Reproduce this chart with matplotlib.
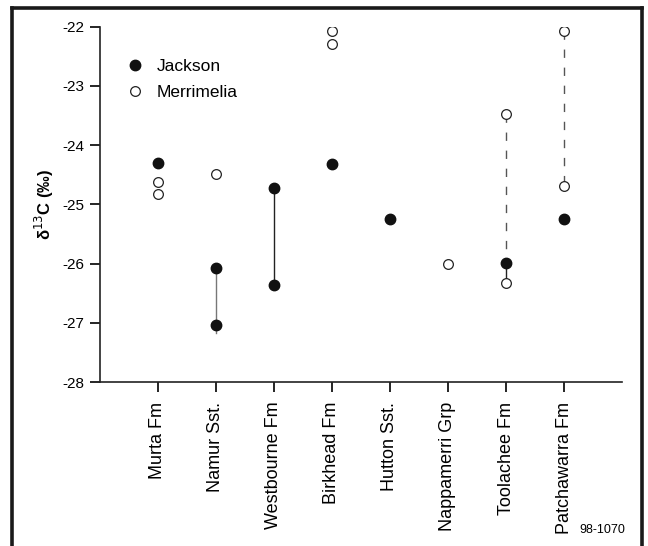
import matplotlib.pyplot as plt
from matplotlib.lines import Line2D

plt.rcParams['font.family'] = ['Liberation Sans', 'DejaVu Sans']

# formations along the x axis
formations = ['Murta Fm', 'Namur Sst.', 'Westbourne Fm', 'Birkhead Fm',
              'Hutton Sst.', 'Nappamerri Grp', 'Toolachee Fm', 'Patchawarra Fm']

# delta 13C values per formation (position 1..8)
jackson_x = [1, 2, 2, 3, 3, 4, 5, 7, 8]
jackson_y = [-24.30, -26.08, -27.03, -24.73, -26.36, -24.32, -25.25, -25.98, -25.25]

merrimelia_x = [1, 1, 2, 4, 4, 6, 7, 7, 8, 8]
merrimelia_y = [-24.62, -24.82, -24.49, -22.08, -22.29, -26.00, -23.47, -26.32, -22.08, -24.69]

# connecting ranges: (x, y_top, y_bottom)
solid_ranges = [(2, -26.08, -27.17), (3, -24.73, -26.36), (7, -25.98, -26.32)]
dashed_ranges = [(7, -23.47, -25.98), (8, -22.08, -24.69)]

fig = plt.figure(figsize=(6.48, 5.46), dpi=100)
ax = fig.add_axes([0.154, 0.300, 0.806, 0.651])

for x, y0, y1 in solid_ranges:
    col = '#777777' if x == 2 else '#222222'
    ax.plot([x, x], [y0, y1], color=col, lw=1.0, zorder=1)
for x, y0, y1 in dashed_ranges:
    ax.plot([x, x], [y0, y1], color='#555555', lw=1.0, dashes=(6, 7), zorder=1)

ax.plot(jackson_x, jackson_y, 'o', ms=7.5, color='#111111', ls='none', zorder=3)
ax.plot(merrimelia_x, merrimelia_y, 'o', ms=7, mfc='white', mec='#222222',
        mew=0.9, ls='none', zorder=3)

ax.set_xlim(0, 9)
ax.set_ylim(-28, -22)
ax.set_yticks([-28, -27, -26, -25, -24, -23, -22])
ax.set_yticklabels(['-28', '-27', '-26', '-25', '-24', '-23', '-22'])
ax.set_xticks(range(1, 9))
ax.set_xticklabels(formations, rotation=90, fontsize=13)
ax.tick_params(axis='y', labelsize=11, length=7, width=1.2, direction='out', pad=4)
ax.tick_params(axis='x', length=7, width=1.2, direction='out', pad=7)
for s in ['top', 'right']:
    ax.spines[s].set_visible(False)
for s in ['left', 'bottom']:
    ax.spines[s].set_linewidth(1.2)
    ax.spines[s].set_color('#222222')

ax.set_ylabel('δ$^{13}$C (‰)', fontsize=12, fontweight='bold', labelpad=5)

handles = [
    Line2D([], [], marker='o', ls='none', ms=7.5, color='#111111'),
    Line2D([], [], marker='o', ls='none', ms=7, mfc='white', mec='#222222', mew=0.9),
]
ax.legend(handles, ['Jackson', 'Merrimelia'], loc='upper left',
          bbox_to_anchor=(0.02, 0.93), frameon=False, fontsize=12.5,
          handletextpad=0.3, labelspacing=0.65, borderaxespad=0)

# outer border
for xs, ys in [([12 / 648, 12 / 648], [0, 1 - 8 / 546]),
               ([12 / 648, 642 / 648], [1 - 8 / 546, 1 - 8 / 546]),
               ([642 / 648, 642 / 648], [1 - 8 / 546, 0])]:
    fig.add_artist(Line2D(xs, ys, transform=fig.transFigure, color='#1a1a1a', lw=2.6))

fig.text(602 / 648, 1 - 530 / 546, '98-1070', fontsize=9, ha='center', va='center')

fig.savefig('out.png', dpi=100)
